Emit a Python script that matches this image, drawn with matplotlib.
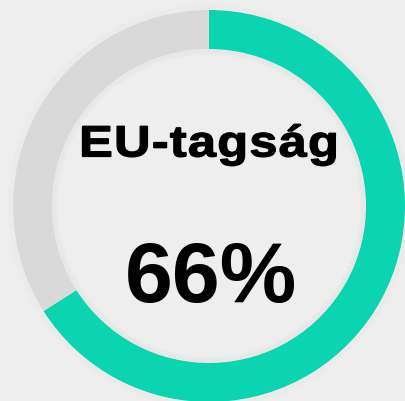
import matplotlib.pyplot as plt
from matplotlib.patches import Circle, PathPatch
from matplotlib.textpath import TextPath
from matplotlib.transforms import Affine2D
from matplotlib.path import Path
from matplotlib import font_manager
from matplotlib.ft2font import FT2Font

# Data
label = "EU-tagság"
share = [66, 34]
colors = ["#0bd4b0", "#d9d9d9"]

W, H = 406, 402
fig = plt.figure(figsize=(W / 100, H / 100), dpi=100)
fig.patch.set_facecolor("#eeeeee")
ax = fig.add_axes([0, 0, 1, 1])
ax.set_facecolor("#eeeeee")

cx, cy = 209, H - 207
r_out, r_in = 196, 157

# faint shadow round the ring
for i in range(5):
    ax.add_patch(Circle((cx, cy), r_out + 1 + i, facecolor="none",
                        edgecolor="black", alpha=0.006, lw=1.2))

ax.pie(share, colors=colors, startangle=90, counterclock=False,
       radius=r_out, center=(cx, cy),
       wedgeprops=dict(width=r_out - r_in, linewidth=0))

# soft inner shadow
for i in range(6):
    ax.add_patch(Circle((cx, cy), r_in - 1 - i, facecolor="none",
                        edgecolor="black", alpha=0.02 - i * 0.003, lw=1.2))

# title: heavy, slightly wide bold lettering built from glyph paths
fp = font_manager.FontProperties(family="Liberation Sans", weight="bold")
em = 44.0      # px
sx = 1.15      # horizontal stretch
spacing = 1.2  # px between letters
font = FT2Font(font_manager.findfont(fp))
font.set_size(em, 72)
paths = []
x = 0.0
for ch in label:
    adv = font.load_char(ord(ch)).linearHoriAdvance / 65536
    tp = TextPath((0, 0), ch, size=em, prop=fp)
    paths.append(tp.transformed(Affine2D().scale(sx, 1).translate(x, 0)))
    x += adv * sx + spacing
title = Path.make_compound_path(*paths)
ext = title.get_extents()
shift = cx - (ext.x0 + ext.x1) / 2
title = title.transformed(Affine2D().translate(shift, H - 157.5))
ax.add_patch(PathPatch(title, facecolor="black", edgecolor="black", lw=0.9))

ax.text(cx + 2, H - 302, f"{share[0]}%", ha="center", va="baseline",
        fontsize=62, fontweight="bold", family="Liberation Sans",
        color="black")

ax.set_xlim(0, W)
ax.set_ylim(0, H)
ax.set_aspect("equal")
ax.axis("off")

plt.savefig("out.png", dpi=100, facecolor=fig.get_facecolor())
